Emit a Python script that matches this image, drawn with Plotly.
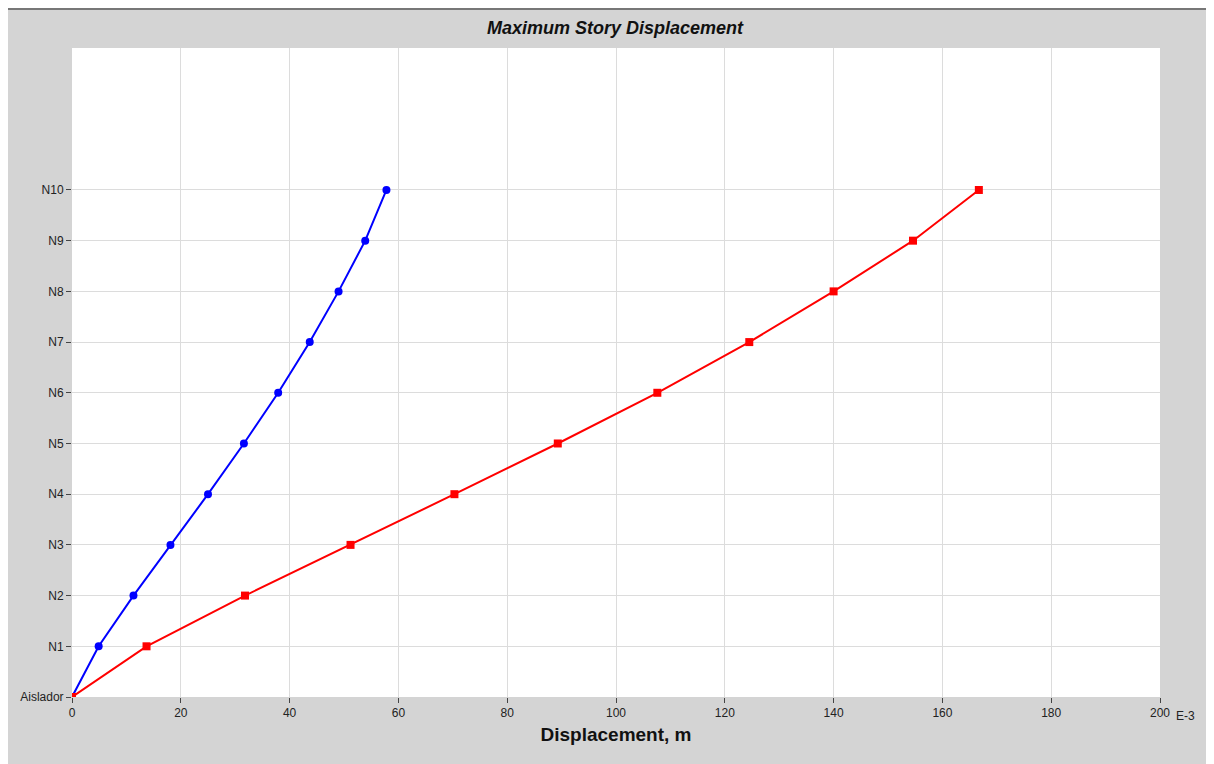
import plotly.graph_objects as go

stories = ["Aislador","N1","N2","N3","N4","N5","N6","N7","N8","N9","N10"]
levels = list(range(11))
blue_x = [0, 4.9, 11.3, 18.1, 25.0, 31.6, 37.9, 43.7, 49.0, 53.9, 57.8]
red_x = [0, 13.7, 31.8, 51.2, 70.3, 89.3, 107.6, 124.5, 140.0, 154.6, 166.7]

fig = go.Figure()
fig.add_trace(go.Scatter(x=blue_x, y=levels, mode="lines+markers",
    line=dict(color="#0000ff", width=2), marker=dict(symbol="circle", size=8, color="#0000ff")))
fig.add_trace(go.Scatter(x=red_x, y=levels, mode="lines+markers",
    line=dict(color="#ff0000", width=2), marker=dict(symbol="square", size=8, color="#ff0000")))

fig.update_layout(
    width=1214, height=764, showlegend=False,
    paper_bgcolor="#d4d4d4", plot_bgcolor="white",
    margin=dict(l=64, r=62, t=40, b=75),
    font=dict(family="Arial, Liberation Sans", color="#222", size=12),
    title=dict(text="<b><i>Maximum Story Displacement</i></b>", x=0.5, xanchor="center",
               y=1-20/764, yanchor="middle", font=dict(size=18, color="#111")),
    xaxis=dict(range=[0, 200], dtick=20, showgrid=True, gridcolor="#dcdcdc",
               ticks="outside", ticklen=5, tickcolor="#444", zeroline=False,
               title=dict(text="<b>Displacement, m</b>", font=dict(size=19, color="#111"), standoff=8)),
    yaxis=dict(range=[0, 12.8], tickvals=levels, ticktext=stories, showgrid=True,
               gridcolor="#dcdcdc", ticks="outside", ticklen=5, tickcolor="#444", zeroline=False),
    shapes=[dict(type="line", xref="paper", yref="paper", x0=-0.1, x1=1.1,
                 y0=1+(40-1)/649, y1=1+(40-1)/649, line=dict(color="#777", width=2))],
    annotations=[dict(text="E-3", xref="paper", yref="paper", x=1, y=0, xshift=14, yshift=-19,
                      xanchor="left", yanchor="middle", showarrow=False, font=dict(size=12))]
)
fig.write_html("out.html")
